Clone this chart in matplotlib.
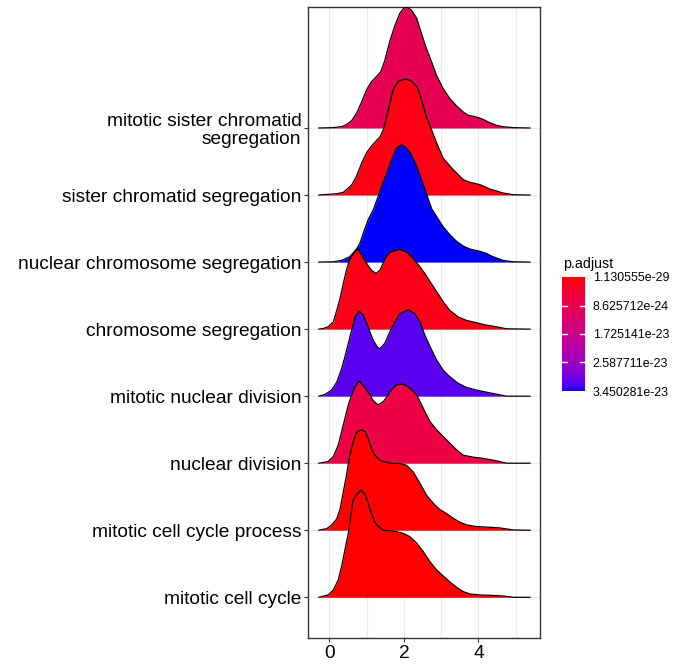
import numpy as np
import matplotlib
matplotlib.use('Agg')
import matplotlib.pyplot as plt
from matplotlib.colors import ListedColormap, Normalize
from matplotlib.cm import ScalarMappable

plt.rcParams['font.family'] = ['Liberation Sans', 'DejaVu Sans']

# terms from bottom to top
terms = [
    'mitotic cell cycle',
    'mitotic cell cycle process',
    'nuclear division',
    'mitotic nuclear division',
    'chromosome segregation',
    'nuclear chromosome segregation',
    'sister chromatid segregation',
    'mitotic sister chromatid\nsegregation',
]

p_adjust = [1.130555e-29, 1.0e-27, 7.0e-24, 3.2e-23,
            1.5e-24, 3.450281e-23, 1.3e-24, 9.2e-24]

cbar_ticks = [1.130555e-29, 8.625712e-24, 1.725141e-23, 2.587711e-23, 3.450281e-23]

# density curves (x, height in row units)
x_mcc = [-0.28, -0.03, 0.11, 0.24, 0.33, 0.42, 0.51, 0.57, 0.64, 0.73, 0.85, 0.96, 1.04, 1.13,
         1.22, 1.31, 1.45, 1.625, 1.80, 1.98, 2.16, 2.34, 2.52, 2.70, 2.875, 3.05, 3.23, 3.41,
         3.59, 3.77, 4.04, 4.3, 4.66, 4.93, 5.38]
h_mcc = [0, 0.035, 0.11, 0.26, 0.46, 0.71, 0.955, 1.2, 1.45, 1.53, 1.60, 1.53, 1.40, 1.25,
         1.12, 1.06, 1.0, 0.99, 0.98, 0.955, 0.905, 0.81, 0.68, 0.53, 0.41, 0.32, 0.23, 0.15,
         0.085, 0.05, 0.035, 0.03, 0.02, 0, 0]

x_mccp = [-0.28, -0.07, 0.06, 0.2, 0.29, 0.375, 0.46, 0.55, 0.64, 0.73, 0.85, 0.96, 1.04,
          1.13, 1.22, 1.36, 1.625, 1.89, 2.07, 2.25, 2.43, 2.61, 2.79, 2.96, 3.14, 3.32, 3.5,
          3.68, 3.95, 4.3, 4.57, 4.93, 5.38]
h_mccp = [0, 0.025, 0.075, 0.17, 0.32, 0.57, 0.82, 1.12, 1.32, 1.46, 1.50, 1.47, 1.37,
          1.22, 1.12, 1.04, 1.00, 0.995, 0.97, 0.87, 0.70, 0.52, 0.40, 0.31, 0.25, 0.18, 0.12,
          0.08, 0.055, 0.045, 0.035, 0.005, 0]

x_nd = [-0.28, -0.03, 0.11, 0.24, 0.33, 0.42, 0.51, 0.6, 0.69, 0.80, 0.96, 1.09, 1.18, 1.31,
        1.45, 1.55, 1.625, 1.80, 1.98, 2.16, 2.34, 2.43, 2.56, 2.70, 2.875, 3.05, 3.23, 3.41,
        3.59, 3.86, 4.08, 4.35, 4.57, 4.75, 5.38]
h_nd = [0, 0.025, 0.10, 0.27, 0.47, 0.67, 0.87, 1.02, 1.14, 1.23, 1.12, 1.02, 0.93, 0.87,
        0.92, 0.995, 1.07, 1.17, 1.18, 1.12, 1.02, 0.92, 0.77, 0.62, 0.50, 0.40, 0.30, 0.20,
        0.12, 0.09, 0.075, 0.05, 0.025, 0, 0]

x_mnd = [-0.28, -0.12, 0.06, 0.2, 0.33, 0.42, 0.51, 0.6, 0.69, 0.80, 0.91, 1.04, 1.18, 1.29,
         1.36, 1.49, 1.625, 1.76, 1.89, 2.12, 2.29, 2.43, 2.56, 2.70, 2.875, 3.05, 3.23, 3.46,
         3.68, 3.95, 4.21, 4.57, 4.75, 5.38]
h_mnd = [0, 0.025, 0.09, 0.21, 0.41, 0.59, 0.79, 0.985, 1.18, 1.27, 1.21, 1.03, 0.83, 0.73,
         0.71, 0.79, 0.96, 1.11, 1.23, 1.29, 1.23, 1.11, 0.91, 0.74, 0.54, 0.39, 0.29, 0.19,
         0.13, 0.09, 0.06, 0.02, 0, 0]

x_cs = [-0.28, -0.16, -0.03, 0.11, 0.2, 0.29, 0.375, 0.46, 0.55, 0.69, 0.76, 0.87, 1.0, 1.13,
        1.25, 1.36, 1.49, 1.625, 1.89, 2.07, 2.25, 2.43, 2.56, 2.70, 2.875, 3.05, 3.23, 3.46,
        3.68, 3.95, 4.21, 4.48, 4.75, 5.38]
h_cs = [0, 0.01, 0.035, 0.11, 0.28, 0.46, 0.68, 0.88, 1.05, 1.16, 1.20, 1.10, 0.98, 0.88,
        0.83, 0.88, 1.05, 1.15, 1.19, 1.15, 1.05, 0.93, 0.83, 0.71, 0.56, 0.41, 0.28, 0.18,
        0.13, 0.095, 0.06, 0.035, 0.005, 0]

x_ncs = [-0.28, 0.11, 0.33, 0.55, 0.73, 0.82, 0.91, 1.04, 1.18, 1.31, 1.4, 1.54, 1.67, 1.8,
         1.94, 2.07, 2.2, 2.34, 2.47, 2.61, 2.74, 2.875, 3.05, 3.23, 3.41, 3.59, 3.77, 4.04,
         4.21, 4.39, 4.66, 4.93, 5.38]
h_ncs = [0, 0.005, 0.025, 0.08, 0.195, 0.28, 0.43, 0.63, 0.78, 0.98, 1.13, 1.33, 1.53, 1.70,
         1.75, 1.70, 1.60, 1.43, 1.23, 1.01, 0.80, 0.68, 0.53, 0.41, 0.31, 0.24, 0.195, 0.16,
         0.13, 0.08, 0.025, 0.005, 0]

x_scs = [-0.28, 0.2, 0.375, 0.6, 0.73, 0.87, 1.0, 1.13, 1.36, 1.45, 1.58, 1.71, 1.85, 2.05,
         2.2, 2.36, 2.47, 2.6, 2.74, 2.875, 3.05, 3.32, 3.59, 3.77, 4.04, 4.3, 4.66, 4.93, 5.38]
h_scs = [0, 0.02, 0.04, 0.15, 0.28, 0.48, 0.63, 0.73, 0.87, 0.975, 1.27, 1.57, 1.70, 1.73,
         1.70, 1.61, 1.42, 1.17, 0.975, 0.78, 0.55, 0.38, 0.23, 0.19, 0.155, 0.09, 0.03, 0.005, 0]

x_mscs = [-0.28, 0.08, 0.33, 0.46, 0.6, 0.73, 0.87, 1.0, 1.13, 1.27, 1.38, 1.49, 1.63, 1.76,
          1.89, 2.0, 2.07, 2.2, 2.34, 2.47, 2.6, 2.74, 2.87, 3.05, 3.23, 3.41, 3.59, 3.72, 3.9,
          4.08, 4.26, 4.48, 4.66, 4.93, 5.38]
h_mscs = [0, 0.005, 0.02, 0.05, 0.11, 0.22, 0.39, 0.57, 0.69, 0.77, 0.84, 1.01, 1.31, 1.53,
          1.71, 1.79, 1.81, 1.76, 1.64, 1.41, 1.19, 0.99, 0.79, 0.59, 0.44, 0.33, 0.24, 0.19,
          0.17, 0.14, 0.09, 0.04, 0.02, 0.005, 0]

curves = [(x_mcc, h_mcc), (x_mccp, h_mccp), (x_nd, h_nd), (x_mnd, h_mnd),
          (x_cs, h_cs), (x_ncs, h_ncs), (x_scs, h_scs), (x_mscs, h_mscs)]


# red -> blue gradient in CIELAB, like ggplot's scale_fill_continuous
_M = np.array([[0.4124, 0.3576, 0.1805],
               [0.2126, 0.7152, 0.0722],
               [0.0193, 0.1192, 0.9505]])
_WHITE = np.array([0.95047, 1.0, 1.08883])


def to_lab(rgb):
    c = np.asarray(rgb, float)
    lin = np.where(c <= 0.04045, c / 12.92, ((c + 0.055) / 1.055) ** 2.4)
    xyz = _M @ lin / _WHITE
    f = np.where(xyz > 0.008856, np.cbrt(xyz), 7.787 * xyz + 16 / 116)
    return np.array([116 * f[1] - 16, 500 * (f[0] - f[1]), 200 * (f[1] - f[2])])


def from_lab(lab):
    L, a, b = lab
    fy = (L + 16) / 116
    f = np.array([fy + a / 500, fy, fy - b / 200])
    xyz = np.where(f ** 3 > 0.008856, f ** 3, (f - 16 / 116) / 7.787) * _WHITE
    lin = np.clip(np.linalg.inv(_M) @ xyz, 0, 1)
    c = np.where(lin <= 0.0031308, 12.92 * lin, 1.055 * lin ** (1 / 2.4) - 0.055)
    return np.clip(c, 0, 1)


lab_lo = to_lab([1, 0, 0])
lab_hi = to_lab([0, 0, 1])
cmap = ListedColormap([from_lab(lab_lo + t * (lab_hi - lab_lo)) for t in np.linspace(0, 1, 256)])
norm = Normalize(vmin=cbar_ticks[0], vmax=cbar_ticks[-1])

fig = plt.figure(figsize=(6.96, 6.71), dpi=100)
ax = fig.add_axes([308 / 696, 33 / 671, 232 / 696, 631 / 671])

for i, (x, h) in enumerate(curves):
    y0 = i + 1
    top = y0 + np.array(h)
    z = 2 * (10 - i)
    ax.fill_between(x, y0, top, color=cmap(norm(p_adjust[i])), lw=0, zorder=z)
    ax.plot(x, top, color='black', lw=0.9, zorder=z + 1)

ax.set_xlim(-0.571, 5.649)
ax.set_ylim(0.393, 9.805)
ax.set_xticks([0, 2, 4])
ax.set_xticks([1, 3, 5], minor=True)
ax.set_yticks(range(1, 9))
ax.set_yticklabels(terms, linespacing=1.1)
ax.grid(which='both', axis='x', color='#EBEBEB', lw=0.8)
ax.grid(which='major', axis='y', color='#EBEBEB', lw=0.8)
ax.set_axisbelow(True)
ax.tick_params(which='major', length=2.6, width=0.8, color='#333333', labelsize=13.8,
               labelcolor='black')
ax.tick_params(axis='y', pad=2.2)
ax.tick_params(axis='x', pad=2.6)
ax.tick_params(which='minor', length=0)
for s in ax.spines.values():
    s.set_color('#333333')
    s.set_linewidth(1.0)

# colour bar legend
cax = fig.add_axes([562 / 696, 280 / 671, 23 / 696, 114 / 671])
cb = fig.colorbar(ScalarMappable(norm=norm, cmap=cmap), cax=cax)
cb.outline.set_visible(False)
cax.invert_yaxis()
cb.set_ticks(cbar_ticks)
cb.set_ticklabels(['{:.6e}'.format(v) for v in cbar_ticks])
cax.tick_params(length=0, pad=5.5, labelsize=8.9, labelcolor='black')
for v in cbar_ticks[1:-1]:
    cax.axhline(v, xmin=0, xmax=0.2, color='white', lw=1)
    cax.axhline(v, xmin=0.8, xmax=1, color='white', lw=1)
fig.text(563 / 696, 1 - 268 / 671, 'p.adjust', fontsize=10.3, ha='left', va='baseline')

fig.savefig('out.png', dpi=100)
